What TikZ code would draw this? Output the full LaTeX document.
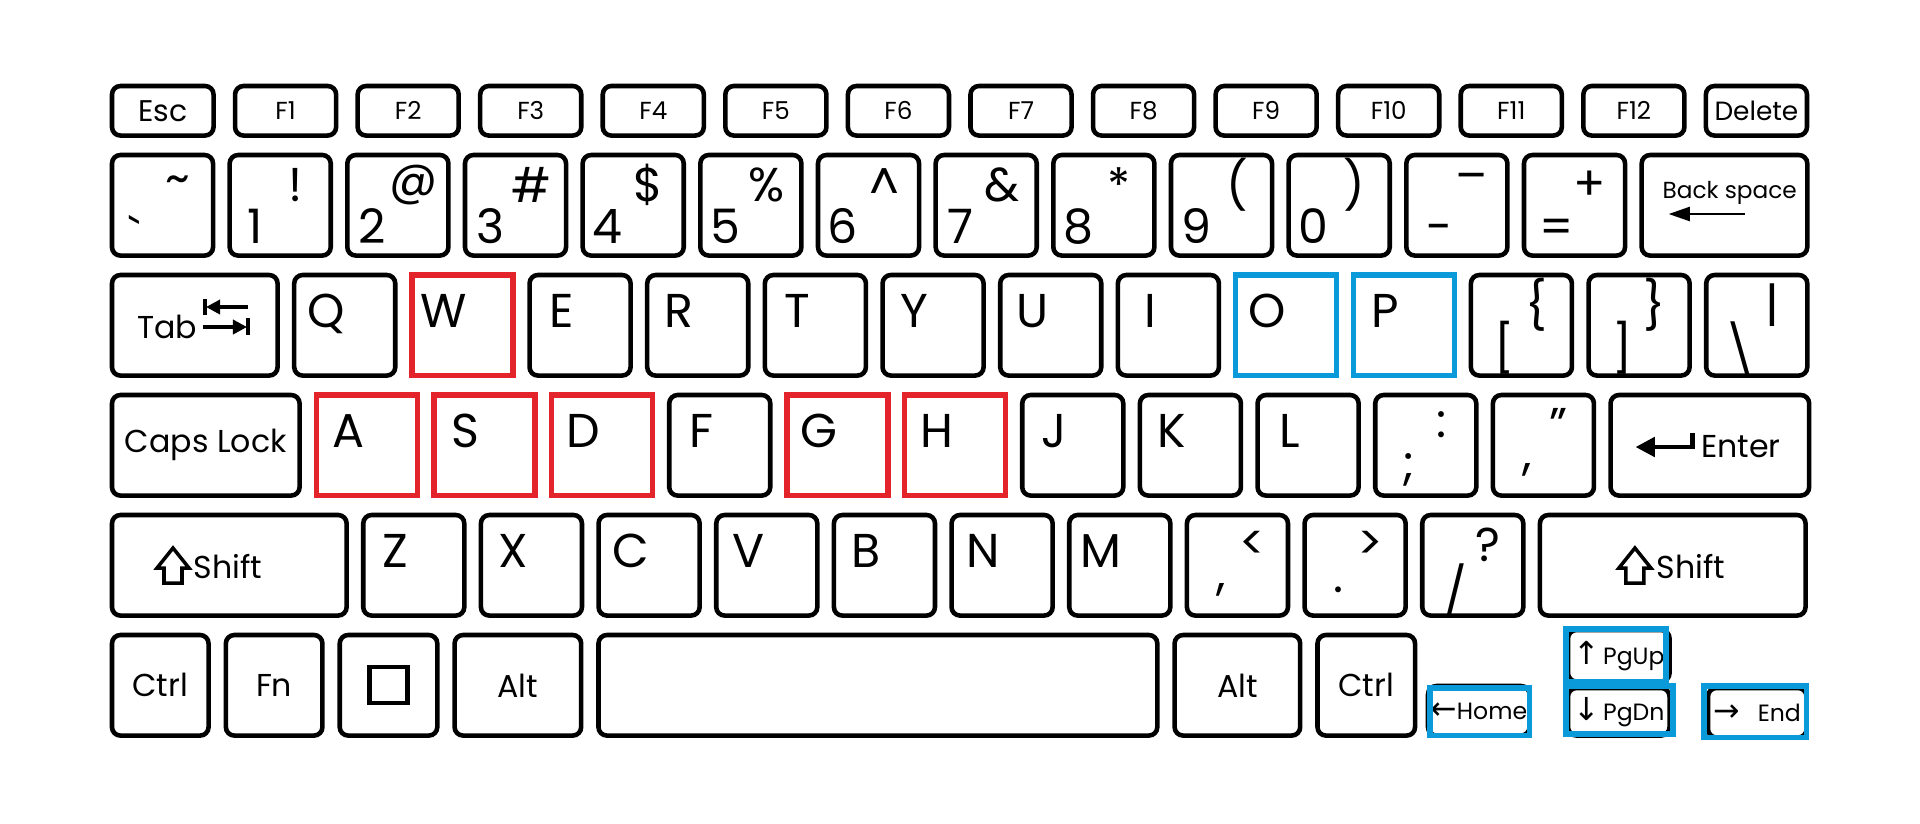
\documentclass[tikz,border=0pt]{standalone}
\usepackage{fontspec}
\setmainfont{Poppins}
\newfontfamily\arrowfont{DejaVu Sans}
\usetikzlibrary{arrows.meta,positioning}
\definecolor{KeyRed}{HTML}{E3242B}
\definecolor{KeyBlue}{HTML}{0A9AD9}

\begin{document}
\begin{tikzpicture}[
    x=0.01cm, y=-0.01cm,
    node distance=0.166cm,
    keycap/.style={draw=black, line width=1.3pt, rounded corners=2.4pt, fill=white,
      anchor=north west, inner sep=0pt, outer sep=0pt,
      minimum width=1.01cm, minimum height=1.005cm},
    fkeycap/.style={keycap, minimum height=0.495cm, font=\fontsize{7}{8}\selectfont},
    letterlbl/.style={anchor=base, inner sep=0pt, font=\fontsize{13.5}{14}\selectfont},
    upperlbl/.style={inner sep=0pt, font=\fontsize{13.5}{14}\selectfont},
    lowerlbl/.style={upperlbl},
    modtxt/.style={font=\fontsize{9}{10}\selectfont},
    smalltxt/.style={font=\fontsize{6.7}{8}\selectfont},
    redkey/.style={draw=KeyRed, line width=1.5pt, sharp corners},
    bluekey/.style={draw=KeyBlue, line width=1.5pt, sharp corners},
    hlW/.style={redkey}, hlA/.style={redkey}, hlS/.style={redkey},
    hlD/.style={redkey}, hlG/.style={redkey}, hlH/.style={redkey},
    hlO/.style={bluekey}, hlP/.style={bluekey},
    hlblue/.style={draw=KeyBlue, line width=1.5pt},
    iconline/.style={line width=1pt}
  ]
    \fill[white] (0,0) rectangle (1920,823);
    \useasboundingbox (0,0) rectangle (1920,823);

    \node[fkeycap, minimum width=1.015cm, font=\fontsize{8.5}{9}\selectfont] (kesc) at (112,86) {Esc};
    \foreach \f [remember=\f as \p (initially esc)] in {F1,F2,F3,F4,F5,F6,F7,F8,F9,F10,F11,F12}
      \node[fkeycap, right=0.215cm of k\p] (k\f) {\f};
    \node[fkeycap, right=0.215cm of kF12, font=\fontsize{7.5}{8}\selectfont] (kdel) {Delete};

    \node[keycap] (kgrave) at (112,155) {};
    \node[upperlbl] (ugrave) at ([shift={(66,30)}]kgrave.north west) {\textasciitilde};
    \node[lowerlbl] (lgrave) at ([shift={(23,79)}]kgrave.north west) {\textasciigrave};
    \foreach \n/\s [remember=\n as \p (initially grave)] in {1/!,2/@,3/\#,4/\$,5/\%,6/\textasciicircum,7/\&,8/*,9/{(},0/{)}} {
      \node[keycap, right=of k\p] (k\n) {};
      \node[letterlbl] (d\n) at ([shift={(25,88)}]k\n.north west) {\n};
      \node[upperlbl] (s\n) at ([shift={(66,30)}]k\n.north west) {\s};
    }
    \node[keycap, right=of k0] (kminus) {};
    \node[letterlbl] (lminus) at ([shift={(33,88)}]kminus.north west) {-};
    \node[upperlbl] (uminus) at ([shift={(65,28)}]kminus.north west) {\textendash};
    \node[keycap, right=of kminus] (kequal) {};
    \node[letterlbl] (lequal) at ([shift={(33,88)}]kequal.north west) {=};
    \node[upperlbl] (uequal) at ([shift={(66,31)}]kequal.north west) {+};
    \node[keycap, minimum width=1.655cm, right=of kequal] (kback) {};
    \node[anchor=base, inner sep=0pt, font=\fontsize{6.6}{8}\selectfont] (tback) at ([shift={(88,43)}]kback.north west) {Back space};
    \draw[-{Triangle[length=6pt, width=4pt]}, line width=0.6pt]
      ([shift={(103,59)}]kback.north west) -- ([shift={(27,59)}]kback.north west);

    \node[keycap, minimum width=1.655cm] (ktab) at (112,275) {};
    \node[modtxt, anchor=base east, inner sep=0pt] (ttab) at ([shift={(86,63)}]ktab.north west) {Tab};
    \begin{scope}[shift={(ktab.north west)}]
      \draw[iconline, -{Triangle[length=4pt, width=4pt]}] (136,32) -- (94,32);
      \draw[iconline] (93,24) -- (93,40);
      \draw[iconline, -{Triangle[length=4pt, width=4pt]}] (91,52) -- (135,52);
      \draw[iconline] (136,43) -- (136,60);
    \end{scope}
    \foreach \c [remember=\c as \p (initially tab)] in {Q,W,E,R,T,Y,U,I,O,P} {
      \node[keycap, right=of k\p, hl\c/.try] (k\c) {};
      \node[letterlbl] (l\c) at ([shift={(32,52)}]k\c.north west) {\c};
    }
    \foreach \n/\lo/\up [remember=\n as \p (initially P)] in {lbrack/[/\{,rbrack/]/\},bslash/\textbackslash/|} {
      \node[keycap, right=of k\p] (k\n) {};
      \node[lowerlbl] (l\n) at ([shift={(34,73)}]k\n.north west) {\lo};
      \node[upperlbl] (u\n) at ([shift={(66,30)}]k\n.north west) {\up};
    }

    \node[keycap, modtxt, minimum width=1.875cm] (kcaps) at (112,395) {Caps Lock};
    \foreach \c [remember=\c as \p (initially caps)] in {A,S,D,F,G,H,J,K,L} {
      \node[keycap, right=of k\p, hl\c/.try] (k\c) {};
      \node[letterlbl] (l\c) at ([shift={(32,52)}]k\c.north west) {\c};
    }
    \foreach \n/\lo/\up [remember=\n as \p (initially L)] in {semi/;/:,quote/{,}/”} {
      \node[keycap, right=of k\p] (k\n) {};
      \node[lowerlbl] (l\n) at ([shift={(34,75)}]k\n.north west) {\lo};
      \node[upperlbl] (u\n) at ([shift={(66,30)}]k\n.north west) {\up};
    }
    \node[keycap, minimum width=1.985cm, right=of kquote] (kenter) {};
    \draw[line width=1.2pt, -{Triangle[length=5.5pt, width=5.5pt]}]
      ([shift={(82,38)}]kenter.north west) -- ([shift={(82,52)}]kenter.north west)
      -- ([shift={(25,52)}]kenter.north west);
    \node[modtxt, anchor=base west, inner sep=0pt] (tenter) at ([shift={(90,62)}]kenter.north west) {Enter};

    \node[keycap, minimum width=2.345cm] (kshiftl) at (112,515) {};
    \node[modtxt, anchor=base west, inner sep=0pt] (tshiftl) at ([shift={(81,63)}]kshiftl.north west) {Shift};
    \draw[iconline, shift={(kshiftl.north west)}]
      (61,33) -- (77,53) -- (70,53) -- (70,68) -- (52,68) -- (52,53) -- (45,53) -- cycle;
    \foreach \c [remember=\c as \p (initially shiftl)] in {Z,X,C,V,B,N,M} {
      \node[keycap, right=of k\p] (k\c) {};
      \node[letterlbl] (l\c) at ([shift={(32,52)}]k\c.north west) {\c};
    }
    \foreach \n/\lo/\up [remember=\n as \p (initially M)] in {comma/{,}/<,period/./>,slash/{/}/?} {
      \node[keycap, right=of k\p] (k\n) {};
      \node[lowerlbl] (l\n) at ([shift={(34,75)}]k\n.north west) {\lo};
      \node[upperlbl] (u\n) at ([shift={(66,30)}]k\n.north west) {\up};
    }
    \node[keycap, minimum width=2.655cm, right=of kslash] (kshiftr) {};
    \node[modtxt, anchor=base west, inner sep=0pt] (tshiftr) at ([shift={(116,63)}]kshiftr.north west) {Shift};
    \draw[iconline, shift={(kshiftr.north west)}]
      (95,33) -- (111,53) -- (104,53) -- (104,68) -- (86,68) -- (86,53) -- (79,53) -- cycle;

    \begin{scope}[node distance=0.173cm]
      \node[keycap, modtxt, minimum width=0.965cm] (kctrll) at (112,635) {Ctrl};
      \node[keycap, modtxt, minimum width=0.965cm, right=of kctrll] (kfn) {Fn};
      \node[keycap, minimum width=0.975cm, right=of kfn] (kwin) {};
      \node[draw, line width=1.2pt, minimum width=0.38cm, minimum height=0.36cm, inner sep=0pt] (kwinsq) at (kwin) {};
      \node[keycap, modtxt, minimum width=1.265cm, right=of kwin] (kaltl) {Alt};
      \node[keycap, minimum width=5.585cm, right=of kaltl] (kspace) {};
      \node[keycap, modtxt, minimum width=1.255cm, right=of kspace] (kaltr) {Alt};
      \node[keycap, modtxt, minimum width=0.975cm, right=of kaltr] (kctrlr) {Ctrl};
    \end{scope}

    \node[keycap, smalltxt, minimum width=1.015cm, minimum height=0.495cm] (khome) at (1428,686) {{\fontsize{9}{8}\arrowfont ←}Home};
    \node[keycap, smalltxt, minimum width=1.015cm, minimum height=0.515cm] (kpgup) at (1568,630) {{\fontsize{9}{8}\arrowfont ↑}\hspace{1pt}PgUp};
    \node[keycap, smalltxt, minimum width=1.015cm, minimum height=0.475cm] (kpgdn) at (1568,688) {{\fontsize{9}{8}\arrowfont ↓}\hspace{1pt}PgDn};
    \node[keycap, smalltxt, minimum width=0.985cm, minimum height=0.495cm] (kend) at (1708,688) {{\fontsize{9}{8}\arrowfont →}\hspace{5pt}End};

    \draw[hlblue] ([shift={(2,2)}]khome.north west) rectangle (khome.south east);
    \draw[hlblue] ([shift={(-2,-1)}]kpgup.north west) rectangle ([shift={(-3.5,0)}]kpgup.south east);
    \draw[hlblue] ([shift={(-2,-2)}]kpgdn.north west) rectangle ([shift={(3.5,-1.5)}]kpgdn.south east);
    \draw[hlblue] ([shift={(-4,-2)}]kend.north west) rectangle (kend.south east);
  \end{tikzpicture}
\end{document}
